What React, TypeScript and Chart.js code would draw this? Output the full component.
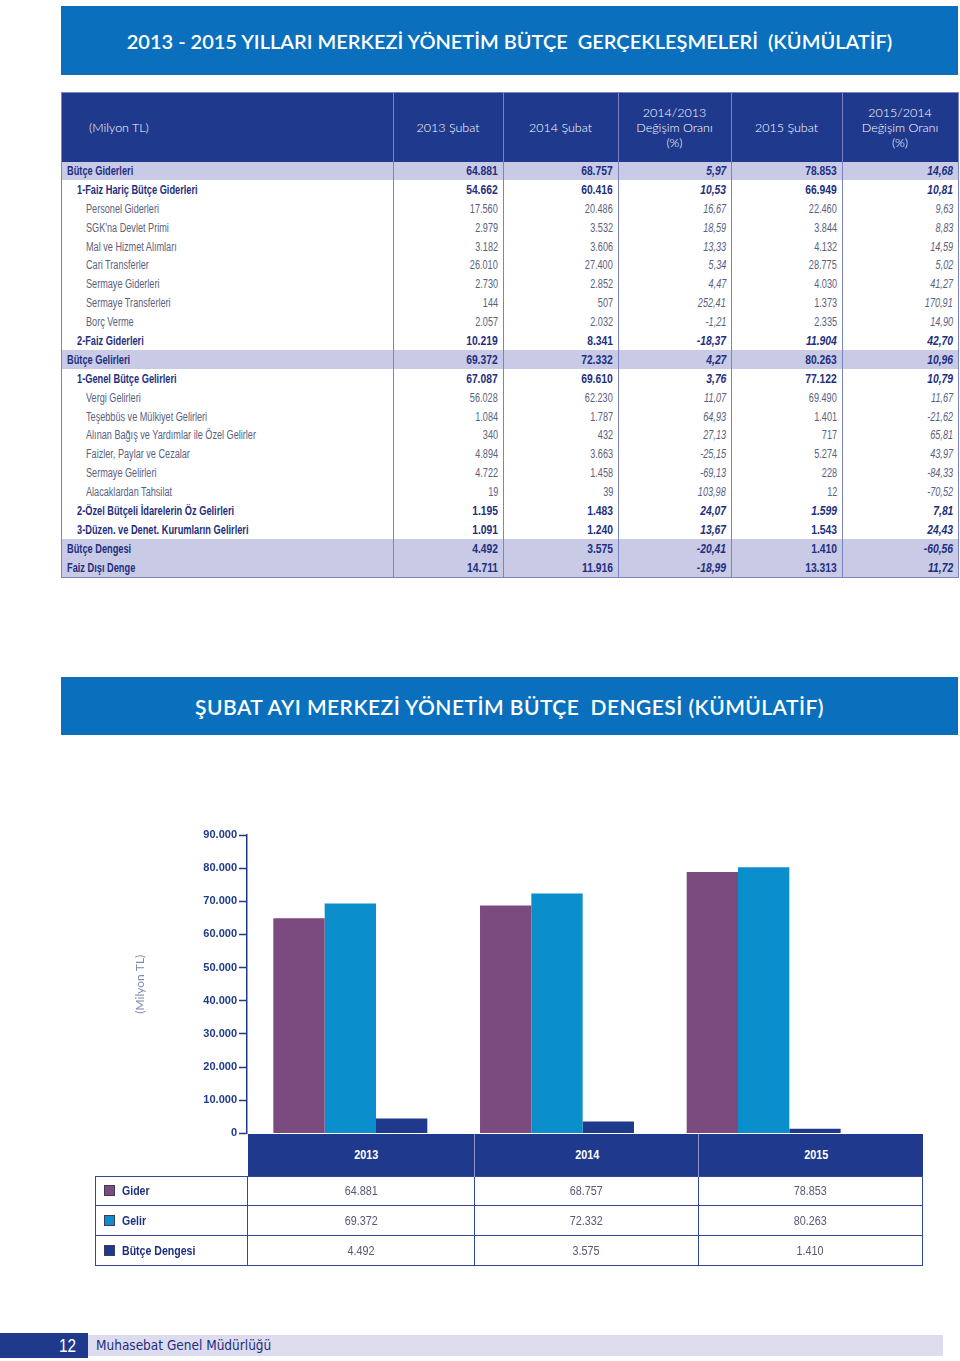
import React, { useEffect, useRef } from "react";
import { Chart, registerables } from "chart.js";

Chart.register(...registerables);

// ---------- Chart data ----------
const years = ["2013", "2014", "2015"];
const giderValues = [64881, 68757, 78853];
const gelirValues = [69372, 72332, 80263];
const dengeValues = [4492, 3575, 1410];
const seriesNames = ["Gider", "Gelir", "Bütçe Dengesi"];
const seriesColors = ["#7b4a7e", "#0a8fcc", "#1f3a8c"];
const yAxisTitle = "(Milyon TL)";

// ---------- Top table data ----------
const tableHeaders = ["(Milyon TL)", "2013 Şubat", "2014 Şubat", "2014/2013\nDeğişim Oranı\n(%)", "2015 Şubat", "2015/2014\nDeğişim Oranı\n(%)"];
const rowLabels = [
  "Bütçe Giderleri",
  "1-Faiz Hariç Bütçe Giderleri",
  "Personel Giderleri",
  "SGK'na Devlet Primi",
  "Mal ve Hizmet Alımları",
  "Cari Transferler",
  "Sermaye Giderleri",
  "Sermaye Transferleri",
  "Borç Verme",
  "2-Faiz Giderleri",
  "Bütçe Gelirleri",
  "1-Genel Bütçe Gelirleri",
  "Vergi Gelirleri",
  "Teşebbüs ve Mülkiyet Gelirleri",
  "Alınan Bağış ve Yardımlar ile Özel Gelirler",
  "Faizler, Paylar ve Cezalar",
  "Sermaye Gelirleri",
  "Alacaklardan Tahsilat",
  "2-Özel Bütçeli İdarelerin Öz Gelirleri",
  "3-Düzen. ve Denet. Kurumların Gelirleri",
  "Bütçe Dengesi",
  "Faiz Dışı Denge",
];
const rowLevels = [0, 1, 2, 2, 2, 2, 2, 2, 2, 1, 0, 1, 2, 2, 2, 2, 2, 2, 1, 1, 0, 0];
const rowShaded = [1, 0, 0, 0, 0, 0, 0, 0, 0, 0, 1, 0, 0, 0, 0, 0, 0, 0, 0, 0, 1, 1];
const rowBold = [1, 1, 0, 0, 0, 0, 0, 0, 0, 1, 1, 1, 0, 0, 0, 0, 0, 0, 1, 1, 1, 1];
const col2013 = ["64.881", "54.662", "17.560", "2.979", "3.182", "26.010", "2.730", "144", "2.057", "10.219", "69.372", "67.087", "56.028", "1.084", "340", "4.894", "4.722", "19", "1.195", "1.091", "4.492", "14.711"];
const col2014 = ["68.757", "60.416", "20.486", "3.532", "3.606", "27.400", "2.852", "507", "2.032", "8.341", "72.332", "69.610", "62.230", "1.787", "432", "3.663", "1.458", "39", "1.483", "1.240", "3.575", "11.916"];
const chg1413 = ["5,97", "10,53", "16,67", "18,59", "13,33", "5,34", "4,47", "252,41", "-1,21", "-18,37", "4,27", "3,76", "11,07", "64,93", "27,13", "-25,15", "-69,13", "103,98", "24,07", "13,67", "-20,41", "-18,99"];
const col2015 = ["78.853", "66.949", "22.460", "3.844", "4.132", "28.775", "4.030", "1.373", "2.335", "11.904", "80.263", "77.122", "69.490", "1.401", "717", "5.274", "228", "12", "1.599", "1.543", "1.410", "13.313"];
const chg1514 = ["14,68", "10,81", "9,63", "8,83", "14,59", "5,02", "41,27", "170,91", "14,90", "42,70", "10,96", "10,79", "11,67", "-21,62", "65,81", "43,97", "-84,33", "-70,52", "7,81", "24,43", "-60,56", "11,72"];
const italic2015Rows = [9, 18];

const fmt = (n: number) => String(n).replace(/\B(?=(\d{3})+(?!\d))/g, ".");

const NAVY = "#1f3a8c";
const SANS = "'Liberation Sans', Arial, Helvetica, sans-serif";
const HUMANIST = "Lato, 'Open Sans', 'Noto Sans', sans-serif";
const BANNER = "#0a70be";
const GRIDLINE = "#7c82c2";

function Sq({ s, origin, children }: { s: number; origin: string; children: React.ReactNode }) {
  return (
    <span
      style={{
        display: "inline-block",
        transform: `scaleX(${s})`,
        transformOrigin: origin,
        whiteSpace: "nowrap",
      }}
    >
      {children}
    </span>
  );
}

function Banner({ top, height, text, size, spacing }: { top: number; height: number; text: string; size: number; spacing: number }) {
  return (
    <div
      style={{
        position: "absolute",
        left: 61,
        top,
        width: 897,
        height,
        background: BANNER,
        color: "#fff",
        display: "flex",
        alignItems: "center",
        justifyContent: "center",
        fontFamily: HUMANIST,
        fontWeight: 600,
        fontSize: size,
        letterSpacing: spacing,
        whiteSpace: "pre",
      }}
    >
      {text}
    </div>
  );
}

export default function App() {
  const canvasRef = useRef<HTMLCanvasElement>(null);

  useEffect(() => {
    const chart = new Chart(canvasRef.current!, {
      type: "bar",
      data: {
        labels: years,
        datasets: [
          { label: seriesNames[0], data: giderValues, backgroundColor: seriesColors[0] },
          { label: seriesNames[1], data: gelirValues, backgroundColor: seriesColors[1] },
          { label: seriesNames[2], data: dengeValues, backgroundColor: seriesColors[2] },
        ],
      },
      options: {
        responsive: false,
        maintainAspectRatio: false,
        animation: false,
        layout: { padding: { top: 20, bottom: 8, left: 0, right: 0 } },
        plugins: { legend: { display: false }, tooltip: { enabled: false } },
        datasets: { bar: { barPercentage: 1, categoryPercentage: 0.745 } },
        scales: {
          x: { display: false, offset: true },
          y: {
            min: 0,
            max: 90000,
            afterFit: (s: any) => {
              s.width = 147;
            },
            ticks: {
              stepSize: 10000,
              color: NAVY,
              padding: 2,
              font: { family: SANS, size: 11, weight: "bold" },
              callback: (v: any) => fmt(Number(v)),
            },
            grid: {
              drawOnChartArea: false,
              drawTicks: true,
              tickLength: 8,
              tickColor: NAVY,
              tickWidth: 1.5,
            },
            border: { color: NAVY, width: 1.5 },
            title: {
              display: true,
              text: yAxisTitle,
              color: "#8089b6",
              font: { family: HUMANIST, size: 12 },
              padding: { top: 33, bottom: 0 },
            },
          },
        },
      },
    } as any);
    return () => chart.destroy();
  }, []);

  const cellBase: React.CSSProperties = {
    height: 18.9,
    padding: "0 5px",
    borderLeft: `1.5px solid ${GRIDLINE}`,
    borderRight: `1.5px solid ${GRIDLINE}`,
    whiteSpace: "nowrap",
    lineHeight: "18px",
    overflow: "visible",
  };

  return (
    <div
      style={{
        position: "absolute",
        left: 0,
        top: 0,
        width: 960,
        height: 1361,
        background: "#fff",
        overflow: "hidden",
      }}
    >
      <Banner top={6} height={69} size={20} spacing={0} text={"2013 - 2015 YILLARI MERKEZİ YÖNETİM BÜTÇE  GERÇEKLEŞMELERİ  (KÜMÜLATİF)"} />

      {/* Top table */}
      <table
        style={{
          position: "absolute",
          left: 61,
          top: 92,
          width: 897,
          borderCollapse: "collapse",
          tableLayout: "fixed",
          border: `1.5px solid ${GRIDLINE}`,
          fontFamily: SANS,
          fontSize: 12,
        }}
      >
        <colgroup>
          <col style={{ width: 332 }} />
          <col style={{ width: 110 }} />
          <col style={{ width: 115 }} />
          <col style={{ width: 113 }} />
          <col style={{ width: 111 }} />
          <col style={{ width: 116 }} />
        </colgroup>
        <thead>
          <tr style={{ height: 69 }}>
            {tableHeaders.map((h, i) => (
              <th
                key={i}
                style={{
                  background: NAVY,
                  color: "#fff",
                  fontFamily: HUMANIST,
                  fontWeight: 300,
                  fontSize: 12.5,
                  lineHeight: "15px",
                  textAlign: i === 0 ? "left" : "center",
                  paddingLeft: i === 0 ? 27 : 0,
                  borderLeft: `1.5px solid ${GRIDLINE}`,
                  whiteSpace: "pre",
                  verticalAlign: "middle",
                }}
              >
                {h}
              </th>
            ))}
          </tr>
        </thead>
        <tbody>
          {rowLabels.map((label, r) => {
            const bold = rowBold[r] === 1;
            const bg = rowShaded[r] === 1 ? "#c8cae6" : "#fff";
            const color = bold ? "#1f2f80" : "#5a6180";
            const values = [col2013[r], col2014[r], chg1413[r], col2015[r], chg1514[r]];
            return (
              <tr key={r} style={{ background: bg }}>
                <td
                  style={{
                    ...cellBase,
                    paddingLeft: rowLevels[r] === 0 ? 5 : rowLevels[r] === 1 ? 15 : 24,
                    color,
                    fontWeight: bold ? 700 : 400,
                    textAlign: "left",
                  }}
                >
                  <Sq s={bold ? 0.77 : 0.76} origin="left center">{label}</Sq>
                </td>
                {values.map((v, c) => (
                  <td
                    key={c}
                    style={{
                      ...cellBase,
                      color,
                      fontWeight: bold ? 700 : 400,
                      fontStyle: c === 2 || c === 4 || (c === 3 && italic2015Rows.includes(r)) ? "italic" : "normal",
                      textAlign: "right",
                    }}
                  >
                    <Sq s={bold ? 0.86 : 0.76} origin="right center">{v}</Sq>
                  </td>
                ))}
              </tr>
            );
          })}
        </tbody>
      </table>

      <Banner top={677} height={58} size={21} spacing={0.45} text={"ŞUBAT AYI MERKEZİ YÖNETİM BÜTÇE  DENGESİ (KÜMÜLATİF)"} />

      {/* Chart */}
      <canvas
        ref={canvasRef}
        width={767}
        height={327}
        style={{ position: "absolute", left: 100, top: 815, width: 767, height: 327 }}
      />

      {/* Data table under chart */}
      <table
        style={{
          position: "absolute",
          left: 95,
          top: 1134,
          width: 827,
          borderCollapse: "collapse",
          tableLayout: "fixed",
          fontFamily: SANS,
          fontSize: 12,
        }}
      >
        <colgroup>
          <col style={{ width: 152 }} />
          <col style={{ width: 227 }} />
          <col style={{ width: 224 }} />
          <col style={{ width: 224 }} />
        </colgroup>
        <thead>
          <tr style={{ height: 42 }}>
            <th style={{ background: "transparent", border: "none" }} />
            {years.map((y, i) => (
              <th
                key={y}
                style={{
                  background: NAVY,
                  color: "#fff",
                  fontWeight: 700,
                  textAlign: "center",
                  borderLeft: i === 0 ? "none" : "1.5px solid #8d97cf",
                  paddingTop: 2,
                  paddingLeft: i === 1 ? 2 : 12,
                }}
              >
                <Sq s={0.9} origin="center">{y}</Sq>
              </th>
            ))}
          </tr>
        </thead>
        <tbody>
          {[giderValues, gelirValues, dengeValues].map((vals, r) => (
            <tr key={r} style={{ height: 29.7 }}>
              <td
                style={{
                  border: "1.5px solid #34479a",
                  color: "#1f2f80",
                  fontWeight: 700,
                  paddingLeft: 8,
                  whiteSpace: "nowrap",
                  paddingTop: 2,
                }}
              >
                <span
                  style={{
                    display: "inline-block",
                    width: 11,
                    height: 11,
                    background: seriesColors[r],
                    border: "1px solid #3c3c5a",
                    boxSizing: "border-box",
                    verticalAlign: "-1px",
                    marginRight: 7,
                  }}
                />
                <Sq s={0.88} origin="left center">{seriesNames[r]}</Sq>
              </td>
              {vals.map((v, c) => (
                <td
                  key={c}
                  style={{
                    border: "1.5px solid #34479a",
                    color: "#555a72",
                    textAlign: "center",
                    paddingTop: 2,
                  }}
                >
                  <Sq s={0.9} origin="center">{fmt(v)}</Sq>
                </td>
              ))}
            </tr>
          ))}
        </tbody>
      </table>

      {/* Footer */}
      <div
        style={{
          position: "absolute",
          left: 0,
          top: 1333,
          width: 88,
          height: 25,
          background: NAVY,
          color: "#fff",
          fontFamily: SANS,
          fontSize: 18,
          textAlign: "right",
          lineHeight: "27px",
          paddingRight: 12,
          boxSizing: "border-box",
        }}
      >
        <Sq s={0.85} origin="right center">12</Sq>
      </div>
      <div
        style={{
          position: "absolute",
          left: 88,
          top: 1335,
          width: 855,
          height: 21,
          background: "#dcdcee",
          color: "#1f2f80",
          fontFamily: "'DejaVu Sans Condensed', " + SANS,
          fontSize: 13.5,
          lineHeight: "21px",
          paddingLeft: 8,
          boxSizing: "border-box",
        }}
      >
        Muhasebat Genel Müdürlüğü
      </div>
    </div>
  );
}
